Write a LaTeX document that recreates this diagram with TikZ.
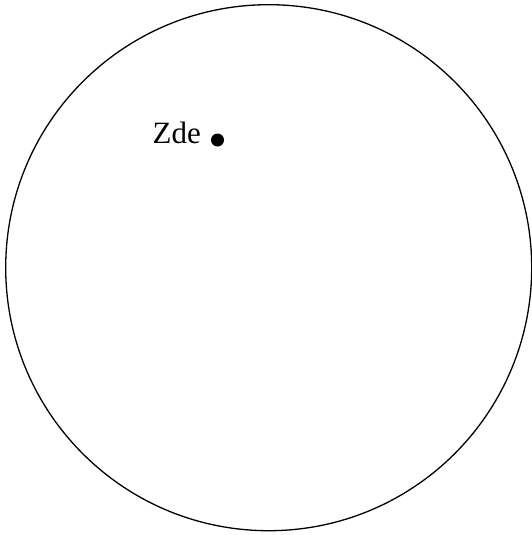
\documentclass[tikz,border=0pt]{standalone}
\usepackage{fontspec}
\setmainfont{Liberation Serif}
\begin{document}
\begin{tikzpicture}[x=1pt,y=-1pt,
  outline/.style={draw=black,line width=1.3pt},
  marker/.style={circle,fill=black,inner sep=0pt,minimum size=13pt},
  lbl/.style={font=\fontsize{31}{36}\selectfont,inner sep=0pt,anchor=base west}]
\useasboundingbox (0,0) rectangle (532,535);
\node[outline,circle,minimum size=526pt,inner sep=0pt] (world) at (268.7,267.7) {};
\node[marker] (here) at (217.5,140) {};
\node[lbl] (zde) at (152.5,143) {Zde};
\end{tikzpicture}
\end{document}
